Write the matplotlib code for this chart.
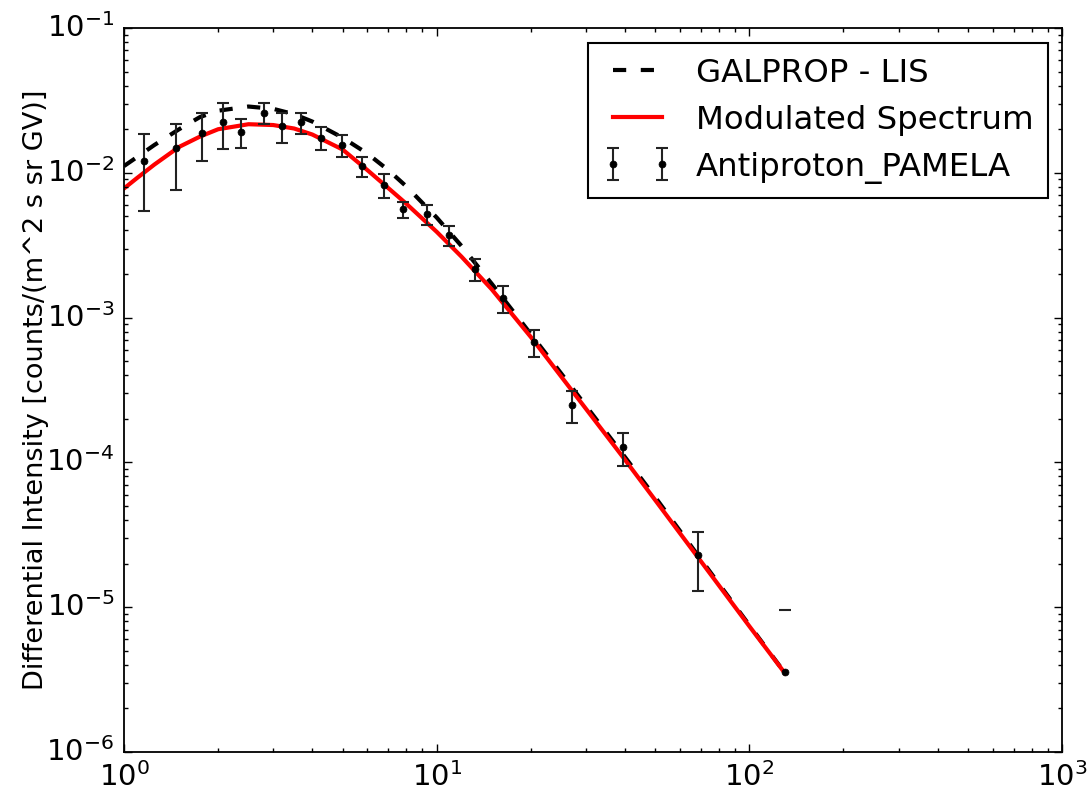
import matplotlib
matplotlib.use("Agg")
import matplotlib.pyplot as plt

# PAMELA antiproton flux (rigidity in GV)
rigidity = [1.161, 1.466, 1.772, 2.068, 2.362, 2.804, 3.194, 3.681, 4.256, 4.99, 5.755,
            6.785, 7.786, 9.33, 10.97, 13.23, 16.26, 20.55, 27.02, 39.34, 68.66, 129.9]
flux = [0.01207, 0.01476, 0.01892, 0.02233, 0.01913, 0.0260, 0.02104, 0.02233, 0.01747,
        0.01556, 0.01114, 0.00824, 0.0056, 0.00519, 0.00372, 0.00216, 0.00136, 0.000682,
        0.000249, 0.000127, 2.29e-5, 3.55e-6]
flux_err = [0.0066, 0.0071, 0.0069, 0.0078, 0.0044, 0.0044, 0.005, 0.0037, 0.0031,
            0.0026, 0.0018, 0.0015, 0.00073, 0.00085, 0.0006, 0.00038, 0.00029, 0.000145,
            6.2e-5, 3.2e-5, 1.0e-5, 6.0e-6]

# model curves
curve_x = [1.0, 1.1, 1.25, 1.5, 1.75, 2.0, 2.5, 3.0, 3.5, 4.0, 5.0, 6.0, 7.0, 8.0, 10.0,
           12.0, 15.0, 20.0, 25.0, 30.0, 40.0, 50.0, 70.0, 100.0, 130.0]
lis_flux = [0.01114, 0.01284, 0.01556, 0.0200, 0.02428, 0.02685, 0.0287, 0.02767, 0.0254,
            0.0226, 0.0175, 0.01359, 0.01045, 0.00805, 0.004912, 0.003128, 0.001712, 0.00077,
            0.000412, 0.0002463, 0.000109, 5.75e-5, 2.138e-5, 7.51e-6, 3.51e-6]
mod_flux = [0.0078, 0.0092, 0.0114, 0.0151, 0.0178, 0.0200, 0.02166, 0.02138, 0.02023,
            0.01839, 0.01449, 0.01045, 0.00785, 0.00611, 0.003914, 0.002638, 0.001568, 0.000735,
            0.0003925, 0.0002349, 0.0001044, 5.49e-5, 2.075e-5, 7.39e-6, 3.495e-6]

plt.style.use("classic")
plt.rcParams["lines.scale_dashes"] = False
fig = plt.figure(figsize=(10.89, 7.94), dpi=100, facecolor="white")
ax = fig.add_axes([0.1139, 0.0529, 0.8613, 0.9118])
ax.set_xscale("log")
ax.set_yscale("log", nonpositive="mask")

ax.plot(curve_x, lis_flux, color="k", ls="--", lw=3, dashes=(9.5, 10.5), label="GALPROP - LIS")
ax.plot(curve_x, mod_flux, color="r", ls="-", lw=3, label="Modulated Spectrum")
ax.errorbar(rigidity, flux, yerr=flux_err, fmt="o", color="k", ms=5, mec="k",
            ecolor="#222222", elinewidth=1.5, capsize=4, capthick=1.5,
            label="Antiproton_PAMELA")

ax.set_xlim(1, 1000)
ax.set_ylim(1e-6, 1e-1)
ax.set_ylabel("Differential Intensity [counts/(m^2 s sr GV)]", fontsize=19.5, labelpad=-2)

for sp in ax.spines.values():
    sp.set_linewidth(1.3)
ax.tick_params(which="both", direction="in", top=True, right=True, labelsize=21, pad=7)
ax.tick_params(which="major", length=6, width=1)
ax.tick_params(which="minor", length=3, width=1)

leg = ax.legend(loc="upper right", bbox_to_anchor=(0.985, 0.979), fontsize=23.3,
                numpoints=2, handlelength=2.14, handletextpad=0.73, borderpad=0.45,
                labelspacing=0.49, borderaxespad=0, fancybox=False)
leg.get_frame().set_linewidth(1.5)

fig.savefig("out.png", dpi=100, facecolor="white")
